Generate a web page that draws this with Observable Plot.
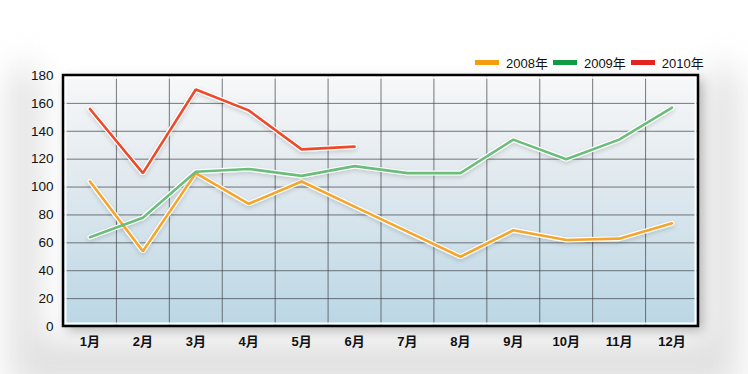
<!DOCTYPE html>
<html><head><meta charset="utf-8">
<script src="https://cdn.jsdelivr.net/npm/d3@7"></script>
<script src="https://cdn.jsdelivr.net/npm/@observablehq/plot@0.6"></script>
<style>
body{margin:0;background:#fff;}
#wrap{position:relative;width:748px;height:374px;overflow:hidden;background:#fff;}
#glow{position:absolute;left:10px;top:70px;width:728px;height:320px;background:#e0e0e0;filter:blur(18px);}
#card{position:absolute;left:40px;top:20px;width:666px;height:320px;background:#fff;filter:blur(16px);}
#chart{position:absolute;left:0;top:0;}
#legend{position:absolute;top:53px;left:475px;font:13px 'Liberation Sans','Noto Sans CJK SC',sans-serif;color:#111;display:flex;align-items:center;}
.sw{display:inline-block;width:24px;height:5px;margin-right:7px;}
.item{display:flex;align-items:center;margin-right:5px;}
</style></head>
<body>
<div id="wrap"><div id="glow"></div><div id="card"></div><div id="chart"></div><div id="legend"></div></div>
<script>
const months = [1,2,3,4,5,6,7,8,9,10,11,12];
const monthLabels = ["1月","2月","3月","4月","5月","6月","7月","8月","9月","10月","11月","12月"];
const yTicks = [0,20,40,60,80,100,120,140,160,180];
const seriesNames = ["2008年","2009年","2010年"];
const values2008 = [104, 54, 110, 88, 104, 86, 68, 50, 69, 62, 63, 74];
const values2009 = [64, 78, 111, 113, 108, 115, 110, 110, 134, 120, 134, 157];
const values2010 = [156, 110, 170, 155, 127, 129];
const lineColors = ["#f5a52c", "#6cbd7c", "#ec4a2a"];
const legendColors = ["#f59d10", "#129a44", "#e52420"];

const series = [values2008, values2009, values2010].map((vals, k) =>
  vals.map((v, i) => ({month: months[i], value: v, year: seriesNames[k]})));

function background(index, scales, values, dims) {
  const {width, height, marginLeft: l, marginRight: r, marginTop: t, marginBottom: b} = dims;
  const g = d3.create("svg:g");
  const defs = g.append("defs");
  const lg = defs.append("linearGradient").attr("id", "bgGrad")
    .attr("x1", 0).attr("y1", 0).attr("x2", 0).attr("y2", 1);
  lg.append("stop").attr("offset", "0%").attr("stop-color", "#f7f8f9");
  lg.append("stop").attr("offset", "40%").attr("stop-color", "#e2eaef");
  lg.append("stop").attr("offset", "100%").attr("stop-color", "#bad6e5");
  const f1 = defs.append("filter").attr("id", "frameShadow").attr("x", "-10%").attr("y", "-10%").attr("width", "125%").attr("height", "125%");
  f1.append("feDropShadow").attr("dx", 4).attr("dy", 4).attr("stdDeviation", 6).attr("flood-color", "#000").attr("flood-opacity", 0.3);
  const f2 = defs.append("filter").attr("id", "lineShadow").attr("x", "-10%").attr("y", "-10%").attr("width", "120%").attr("height", "130%");
  f2.append("feDropShadow").attr("dx", 0).attr("dy", 2).attr("stdDeviation", 2).attr("flood-color", "#000").attr("flood-opacity", 0.15);
  g.append("rect").attr("x", l).attr("y", t).attr("width", width - l - r).attr("height", height - t - b)
    .attr("fill", "url(#bgGrad)").attr("filter", "url(#frameShadow)");
  return g.node();
}

function innerBorder(index, scales, values, dims) {
  const {width, height, marginLeft: l, marginRight: r, marginTop: t, marginBottom: b} = dims;
  const g = d3.create("svg:g");
  g.append("rect").attr("x", l + 2.5).attr("y", t + 2.5).attr("width", width - l - r - 5).attr("height", height - t - b - 5)
    .attr("fill", "none").attr("stroke", "#fff").attr("stroke-width", 2);
  g.append("rect").attr("x", l).attr("y", t).attr("width", width - l - r).attr("height", height - t - b)
    .attr("fill", "none").attr("stroke", "#000").attr("stroke-width", 2.5);
  return g.node();
}

const boundaries = months.slice(0, 11).map(m => m + 0.5);
const innerY = yTicks.filter(v => v > 0 && v < 180);

const halos = series.map(s => Plot.line(s, {x: "month", y: "value", stroke: "#fff", strokeWidth: 5, strokeLinejoin: "miter", strokeLinecap: "round"}));
const lines = series.map((s, k) => Plot.line(s, {x: "month", y: "value", stroke: lineColors[k], strokeWidth: 2.6, strokeLinejoin: "miter", strokeLinecap: "round"}));

const chart = Plot.plot({
  width: 748,
  height: 374,
  marginLeft: 63,
  marginRight: 50,
  marginTop: 75,
  marginBottom: 48,
  style: {fontFamily: "'Liberation Sans','Noto Sans CJK SC',sans-serif", fontSize: "13px", color: "#111", background: "transparent", overflow: "visible"},
  x: {type: "linear", domain: [0.5, 12.5]},
  y: {domain: [0, 180]},
  marks: [
    background,
    Plot.ruleY(innerY, {stroke: "#3e4246", strokeOpacity: 0.7, strokeWidth: 1}),
    Plot.ruleX(boundaries, {stroke: "#3e4246", strokeOpacity: 0.7, strokeWidth: 1}),
    innerBorder,
    ...halos,
    ...lines,
    Plot.axisY(yTicks, {tickSize: 0, tickPadding: 10, fontSize: 13.5, label: null}),
    Plot.axisX(months, {tickSize: 0, tickPadding: 10, fontSize: 13, fontWeight: "bold", label: null, tickFormat: d => monthLabels[d - 1]})
  ]
});
d3.select(chart).selectAll("g[aria-label=line]").filter((d, i) => i < 3).attr("filter", "url(#lineShadow)");
document.getElementById("chart").appendChild(chart);

const legend = d3.select("#legend");
seriesNames.forEach((name, k) => {
  const item = legend.append("div").attr("class", "item");
  item.append("span").attr("class", "sw").style("background", legendColors[k]);
  item.append("span").text(name);
});
</script>
</body></html>
